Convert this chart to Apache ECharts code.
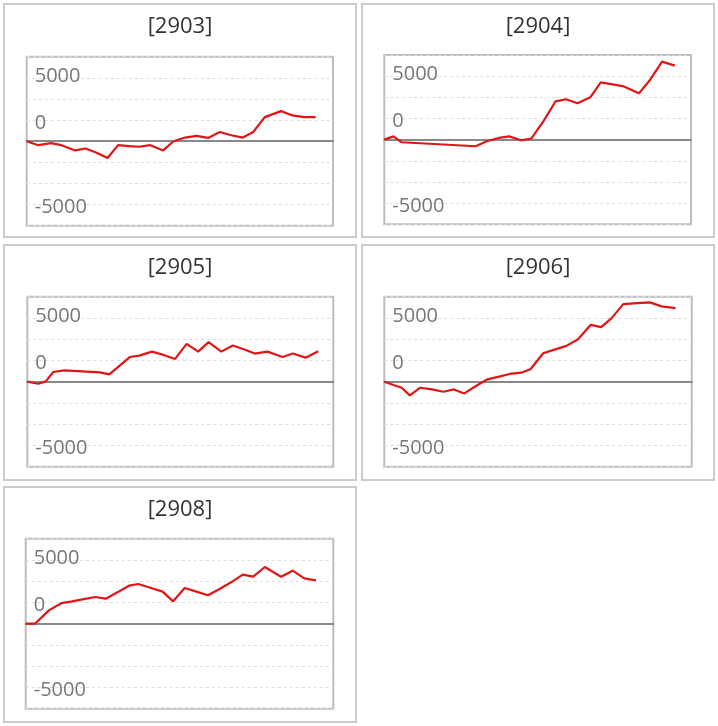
<!DOCTYPE html>
<html>
<head>
<meta charset="utf-8">
<script src="https://cdn.jsdelivr.net/npm/echarts@6/dist/echarts.min.js"></script>
<style>html,body{margin:0;padding:0;background:#fff}#c{width:718px;height:726px}</style>
</head>
<body>
<div id="c"></div>
<script>
// ---- data ----
const titles = ['[2903]', '[2904]', '[2905]', '[2906]', '[2908]'];

const days2903 = [0, 1.0, 2.1, 3.0, 4.2, 5.1, 6.0, 7.0, 7.9, 8.9, 9.7, 10.7, 11.8, 12.7, 13.7, 14.7, 15.7, 16.7, 17.7, 18.7, 19.6, 20.6, 22.0, 23.0, 24.0, 25.0];
const pnl2903  = [0, -470, -230, -470, -1090, -860, -1330, -1990, -470, -590, -660, -470, -1090, 0, 430, 630, 390, 1090, 700, 430, 1090, 2850, 3560, 3050, 2850, 2850];

const days2904 = [0, 0.8, 1.5, 7.9, 8.9, 9.9, 10.8, 11.8, 12.7, 13.8, 14.8, 15.7, 16.7, 17.8, 18.7, 20.6, 22.0, 22.9, 24.0, 25.1];
const pnl2904  = [0, 390, -310, -780, -160, 200, 390, -80, 120, 2270, 4530, 4770, 4300, 5000, 6760, 6330, 5470, 6950, 9220, 8750];

const days2905 = [0, 0.95, 1.6, 2.25, 3.2, 6.3, 7.1, 8.9, 9.7, 10.8, 11.8, 12.8, 13.8, 14.8, 15.7, 16.8, 17.8, 18.8, 19.7, 20.8, 22.1, 23.0, 24.1, 25.2];
const pnl2905  = [0, -240, 40, 1140, 1340, 1100, 870, 2910, 3070, 3540, 3150, 2680, 4450, 3540, 4650, 3540, 4250, 3780, 3310, 3540, 2910, 3310, 2830, 3580];

const days2906 = [0, 0.8, 1.5, 2.2, 3.1, 4.1, 5.1, 6.0, 6.9, 7.9, 8.9, 9.9, 10.8, 11.8, 12.6, 13.7, 14.6, 15.7, 16.7, 17.8, 18.7, 19.6, 20.6, 21.8, 22.9, 23.9, 25.1];
const pnl2906  = [0, -390, -710, -1610, -710, -910, -1180, -910, -1380, -510, 280, 590, 910, 1060, 1460, 3350, 3740, 4210, 5000, 6690, 6420, 7480, 9130, 9250, 9330, 8860, 8660];

const days2908 = [0, 0.8, 2.0, 3.1, 4.0, 5.0, 6.0, 6.9, 7.9, 8.9, 9.7, 10.8, 11.8, 12.7, 13.7, 14.7, 15.7, 16.7, 17.7, 18.7, 19.6, 20.6, 22.0, 23.0, 24.0, 25.0];
const pnl2908  = [0, 0, 1570, 2430, 2630, 2900, 3140, 2940, 3690, 4470, 4670, 4200, 3770, 2630, 4200, 3770, 3340, 4080, 4870, 5770, 5530, 6670, 5530, 6240, 5340, 5100];

// y tick labels as drawn in the reference (value of gridline -> text)
const yTickValues = [7500, 2500, -7500];
const yTickLabels = ['5000', '0', '-5000'];

// ---- layout ----
const daysList = [days2903, days2904, days2905, days2906, days2908];
const pnlList = [pnl2903, pnl2904, pnl2905, pnl2906, pnl2908];

const panels = [
  { x: 4, y: 4, w: 352, h: 233 },
  { x: 362, y: 4, w: 352, h: 233 },
  { x: 4, y: 245, w: 352, h: 235 },
  { x: 362, y: 245, w: 352, h: 235 },
  { x: 4, y: 487, w: 352, h: 235 }
];
const grids = [
  { left: 26.7, top: 56.7, width: 306.3, height: 169 },
  { left: 384.3, top: 55, width: 306.7, height: 169.3 },
  { left: 27.3, top: 296.7, width: 306, height: 170 },
  { left: 384.3, top: 296.7, width: 307.4, height: 170 },
  { left: 25.7, top: 538.7, width: 307.6, height: 170 }
];
const FONT = 'Open Sans';
const labelStyles = ['up', 'down', 'down'];

const chart = echarts.init(document.getElementById('c'), null, { renderer: 'canvas' });

const graphic = [];
panels.forEach((p, i) => {
  graphic.push({
    type: 'rect', silent: true, z: -10,
    shape: { x: p.x, y: p.y, width: p.w, height: p.h },
    style: { fill: 'none', stroke: '#cccccc', lineWidth: 2 }
  });
  graphic.push({
    type: 'text', silent: true,
    style: {
      x: p.x + p.w / 2, y: p.y + 22.5, text: titles[i],
      align: 'center', verticalAlign: 'middle',
      fontFamily: FONT, fontSize: 22, fill: '#333333'
    }
  });
});

const labelText = { color: '#777777', fontFamily: FONT, fontSize: 20 };

const option = {
  animation: false,
  backgroundColor: '#ffffff',
  graphic: graphic,
  grid: grids.map(g => ({
    left: g.left, top: g.top, width: g.width, height: g.height,
    show: true, borderColor: '#bdbdbd', borderWidth: 2, backgroundColor: 'transparent',
    containLabel: false
  })),
  xAxis: grids.map((g, i) => ({
    type: 'value', gridIndex: i, min: 0, max: 26.5,
    axisLine: { show: true, onZero: true, lineStyle: { color: '#888888', width: 2 } },
    axisTick: { show: false }, axisLabel: { show: false }, splitLine: { show: false }
  })),
  yAxis: grids.map((g, i) => ({
    type: 'value', gridIndex: i, min: -10000, max: 10000, interval: 2500,
    axisLine: { show: false }, axisTick: { show: false },
    axisLabel: {
      inside: true, margin: 8, color: '#777777', fontFamily: FONT, fontSize: 20,
      showMinLabel: false, showMaxLabel: false,
      formatter: v => {
        const k = yTickValues.indexOf(v);
        return k >= 0 ? '{' + labelStyles[k] + '|' + yTickLabels[k] + '}' : '';
      },
      rich: {
        up: Object.assign({ padding: [0, 0, 3, 0] }, labelText),
        down: Object.assign({ padding: [6, 0, 0, 0] }, labelText)
      }
    },
    splitLine: { show: true, lineStyle: { color: '#dddddd', type: [3, 3], width: 1 } }
  })),
  series: pnlList.map((vals, i) => ({
    type: 'line', xAxisIndex: i, yAxisIndex: i,
    data: vals.map((v, k) => [daysList[i][k], v]),
    showSymbol: false, symbol: 'none',
    lineStyle: { color: '#e01515', width: 2.2 },
    z: 5
  }))
};
chart.setOption(option);
</script>
</body>
</html>
